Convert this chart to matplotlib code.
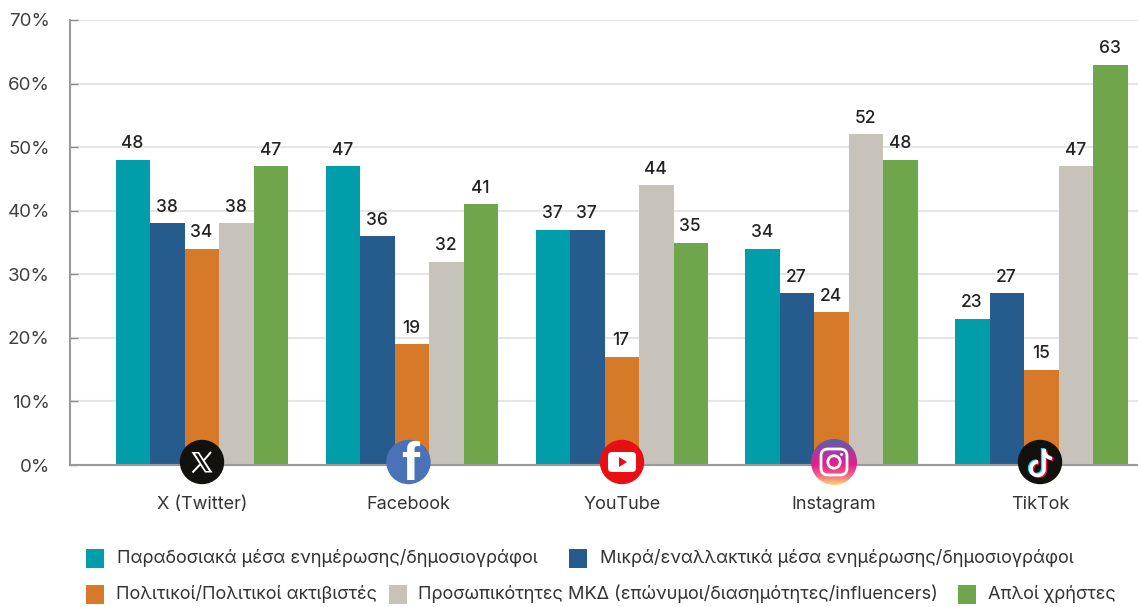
import numpy as np
import matplotlib
matplotlib.use("Agg")
import matplotlib.pyplot as plt
from matplotlib.patches import Circle, Rectangle, FancyBboxPatch, Polygon, PathPatch
from matplotlib.path import Path
from matplotlib.transforms import ScaledTranslation, Affine2D
from matplotlib.colors import LinearSegmentedColormap

platforms = ["X (Twitter)", "Facebook", "YouTube", "Instagram", "TikTok"]
series_names = ["Παραδοσιακά μέσα ενημέρωσης/δημοσιογράφοι",
                "Μικρά/εναλλακτικά μέσα ενημέρωσης/δημοσιογράφοι",
                "Πολιτικοί/Πολιτικοί ακτιβιστές",
                "Προσωπικότητες ΜΚΔ (επώνυμοι/διασημότητες/influencers)",
                "Απλοί χρήστες"]
traditional = [48, 47, 37, 34, 23]
alternative = [38, 36, 37, 27, 27]
politicians = [34, 19, 17, 24, 15]
celebrities = [38, 32, 44, 52, 47]
users = [47, 41, 35, 48, 63]
colors = ["#009EAA", "#265B8E", "#D67A2A", "#C7C2BA", "#70A64B"]
y_ticks = [0, 10, 20, 30, 40, 50, 60, 70]

W, H = 1138, 607
plt.rcParams["font.family"] = ["Inter", "Noto Sans", "DejaVu Sans"]
fig = plt.figure(figsize=(W/100, H/100), dpi=100)
ax = fig.add_axes([70/W, 1-465/H, (W-70)/W, 445/H])
ax.set_ylim(0, 70)
ax.set_xlim(-0.6289, 4.459)
ax.set_axisbelow(True)
ax.grid(axis="y", color="#E6E6E6", lw=1.5)
ax.tick_params(axis="y", direction="in", length=6, width=1, color="#8C8C8C", pad=14.5,
               labelsize=13.5, labelcolor="#404040")
ax.tick_params(axis="x", length=0, pad=22, labelsize=13, labelcolor="#333333")
ax.set_yticks(y_ticks, [f"{v}%" for v in y_ticks])
x = np.arange(len(platforms))
ax.set_xticks(x, platforms)
for lab, dpx in zip(ax.get_xticklabels(), [0, -4, 0.5, 1.5, -1]):
    lab.set_transform(lab.get_transform() + ScaledTranslation(dpx/100, 0, fig.dpi_scale_trans))
for s in ["top", "right"]:
    ax.spines[s].set_visible(False)
for s in ["left", "bottom"]:
    ax.spines[s].set_color("#9A9A9A")
    ax.spines[s].set_linewidth(1.5)

all_series = [traditional, alternative, politicians, celebrities, users]
bw = 34.5/209.9
for i, vals in enumerate(all_series):
    bars = ax.bar(x + (i-2)*bw, vals, bw, color=colors[i], zorder=2)
    for b, v in zip(bars, vals):
        ax.annotate(str(v), (b.get_x()+b.get_width()/2, v), xytext=(-0.5, 5.5),
                    textcoords="offset points", ha="center", va="bottom",
                    fontsize=12.5, color="#222222", fontweight="medium")

# pixel-coordinate overlay for logos and legend
ov = fig.add_axes([0, 0, 1, 1], zorder=5)
ov.set_xlim(0, W); ov.set_ylim(H, 0); ov.axis("off"); ov.patch.set_alpha(0)
R = 21.5
cy = 462
# X
ov.add_patch(Circle((202, cy), R, color="#12110D"))
ov.add_patch(Polygon([[191.5, 452], [199, 452], [212.5, 472.5], [205, 472.5]], fc="white", ec="none"))
ov.add_patch(Polygon([[195, 453.5], [198, 453.5], [209, 471], [206, 471]], fc="#12110D", ec="none"))
ov.plot([211, 204], [452, 460.2], color="white", lw=1.4, solid_capstyle="butt")
ov.plot([200, 192.5], [464.5, 472.5], color="white", lw=1.4, solid_capstyle="butt")
# Facebook
fb_clip = Circle((408.5, cy), R, transform=ov.transData)
ov.add_patch(Circle((408.5, cy), R, color="#4A72B8"))
ov.text(410, cy+4, "f", color="white", ha="center", va="center", fontsize=39, family="Liberation Sans",
        fontweight="bold", clip_path=fb_clip, clip_on=True)
# YouTube
ov.add_patch(Circle((622, cy), R, color="#E80F14"))
ov.add_patch(FancyBboxPatch((608, 452), 28, 20, boxstyle="round,pad=0,rounding_size=4", fc="white", ec="none"))
ov.add_patch(Polygon([[619, 457], [619, 467], [627, 462]], fc="#E80F14", ec="none"))
# Instagram
cmap = LinearSegmentedColormap.from_list("ig", [(0, "#4F63B0"), (0.25, "#A23F9C"), (0.55, "#E61C8C"),
                                                (0.8, "#F2668A"), (1, "#FFD66E")])
grad = np.linspace(0, 1, 64).reshape(-1, 1)
im = ov.imshow(grad, extent=(811, 857, 485, 439), cmap=cmap, aspect="auto", zorder=2, origin="upper")
im.set_clip_path(Circle((834, 462), 23, transform=ov.transData))
ov.set_xlim(0, W); ov.set_ylim(H, 0)
ov.add_patch(FancyBboxPatch((821, 449), 26, 26, boxstyle="round,pad=0,rounding_size=7", fc="none", ec="white", lw=2, zorder=3))
ov.add_patch(Circle((834, 462), 6.2, fc="none", ec="white", lw=2, zorder=3))
ov.add_patch(Circle((841.5, 454.5), 1.5, fc="white", ec="none", zorder=3))
# TikTok
ov.add_patch(Circle((1040, cy), R, color="#12110D"))
note = Path([(1044, 449), (1044, 469), (1044, 477.5), (1031, 477.5), (1031, 469), (1031, 464), (1035, 461.5), (1038, 462),
             (1044, 449), (1044, 455), (1048, 458), (1052, 458.5)],
            [Path.MOVETO, Path.LINETO, Path.CURVE4, Path.CURVE4, Path.CURVE4, Path.CURVE4, Path.CURVE4, Path.CURVE4,
             Path.MOVETO, Path.CURVE4, Path.CURVE4, Path.CURVE4])
for dx, dy, c in [(-1.3, -0.8, "#2AD4DC"), (1.3, 0.8, "#F0174F"), (0, 0, "white")]:
    ov.add_patch(PathPatch(note.transformed(Affine2D().translate(dx, dy)),
                           fc="none", ec=c, lw=2.6, zorder=3))

# legend
legend_pos = [(86, 558, 117), (569, 558, 600), (86, 594, 116), (389, 594, 418), (958, 594, 988)]
for (sx, sy, tx), name, c in zip(legend_pos, series_names, colors):
    ov.add_patch(Rectangle((sx, sy-9.5), 18.5, 19, fc=c, ec="none"))
    ov.text(tx, sy, name, ha="left", va="center", fontsize=13.1, color="#333333")

fig.savefig("out.png", dpi=100)
